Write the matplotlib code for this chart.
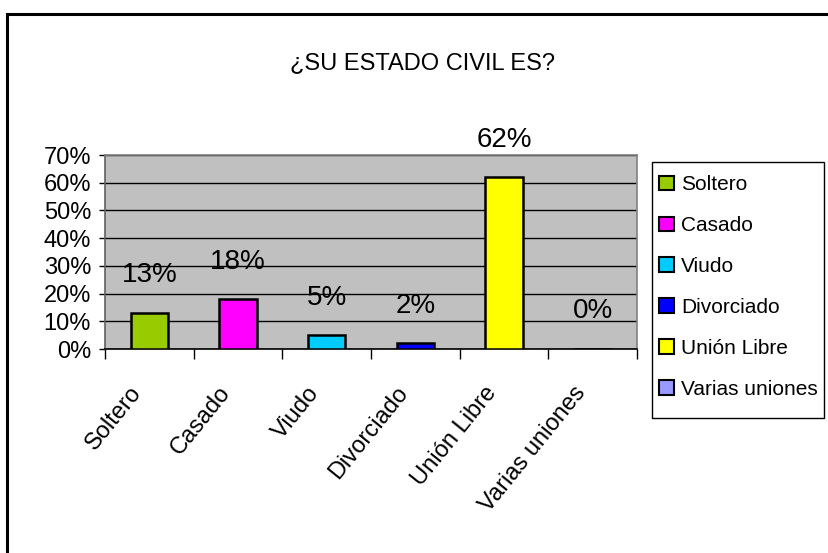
import matplotlib.pyplot as plt
import matplotlib.transforms as mtransforms
from matplotlib.patches import Rectangle, Patch
from matplotlib.ticker import FixedLocator

categories = ['Soltero', 'Casado', 'Viudo', 'Divorciado', 'Unión Libre', 'Varias uniones']
values = [0.13, 0.18, 0.05, 0.02, 0.62, 0.0]
value_labels = ['13%', '18%', '5%', '2%', '62%', '0%']
colors = ['#99CC00', '#FF00FF', '#00CCFF', '#0000FF', '#FFFF00', '#9999FF']
y_ticks = [0.0, 0.1, 0.2, 0.3, 0.4, 0.5, 0.6, 0.7]
y_labels = ['0%', '10%', '20%', '30%', '40%', '50%', '60%', '70%']

plt.rcParams['font.family'] = ['Liberation Sans', 'DejaVu Sans']

W, H = 829, 553
fig = plt.figure(figsize=(W / 100, H / 100), dpi=100)
fig.patch.set_facecolor('white')

# outer chart frame, right and bottom edges run off the picture
frame = Rectangle((7 / W, -0.02), 1.05, 1 - 14 / H + 0.02, transform=fig.transFigure,
                  fill=False, edgecolor='black', linewidth=2.2, clip_on=False)
fig.patches.append(frame)

fig.text(0.51, 0.886, '¿SU ESTADO CIVIL ES?', ha='center', va='center', fontsize=17)

ax = fig.add_axes([105 / W, 1 - 349 / H, 532 / W, 194 / H])
ax.set_facecolor('#C0C0C0')

x = list(range(len(categories)))
ax.bar(x, values, width=0.42, color=colors, edgecolor='black', linewidth=1.8, zorder=3)

for xi, v, lab in zip(x, values, value_labels):
    ax.annotate(lab, (xi, v), xytext=(0, 27), textcoords='offset points',
                ha='center', va='center', fontsize=20)

ax.set_xlim(-0.5, len(categories) - 0.5)
ax.set_ylim(0, 0.7)
ax.set_yticks(y_ticks)
ax.set_yticklabels(y_labels, fontsize=17)
ax.yaxis.grid(True, color='black', linewidth=1.0, zorder=1)
ax.set_axisbelow(True)

ax.set_xticks(x)
ax.set_xticklabels(categories, rotation=51, ha='right', rotation_mode='anchor', fontsize=17)
ax.tick_params(axis='x', which='major', length=0, pad=24)
shift = mtransforms.ScaledTranslation(-20 / 100, 0, fig.dpi_scale_trans)
for lbl in ax.get_xticklabels():
    lbl.set_transform(lbl.get_transform() + shift)
ax.xaxis.set_minor_locator(FixedLocator([i - 0.5 for i in range(len(categories) + 1)]))
ax.tick_params(axis='x', which='minor', length=7, width=1, color='black')
ax.tick_params(axis='y', length=4, width=1, color='black', pad=6)

for side in ['top', 'right']:
    ax.spines[side].set_color('#808080')
ax.spines['left'].set_color('#606060')
ax.spines['bottom'].set_color('black')
for s in ax.spines.values():
    s.set_linewidth(1.2)

# legend box drawn separately so its size matches the original
legend_box = Rectangle((652 / W, 1 - 418 / H), 172 / W, 256 / H, transform=fig.transFigure,
                       fill=False, edgecolor='black', linewidth=1.0)
fig.patches.append(legend_box)

handles = [Patch(facecolor=c, edgecolor='black', linewidth=1.5) for c in colors]
leg = fig.legend(handles, categories, loc='upper left', bbox_to_anchor=(652 / W, 1 - 168 / H),
                 fontsize=15, frameon=False,
                 handlelength=0.7, handleheight=0.7, handletextpad=0.35,
                 labelspacing=1.05, borderpad=0.35, borderaxespad=0)

fig.savefig('out.png', dpi=100)
